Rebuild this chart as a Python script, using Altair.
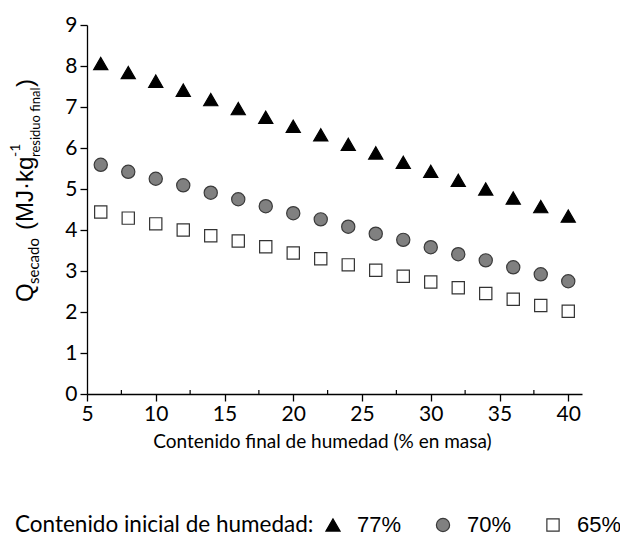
import altair as alt
import pandas as pd

# ---- data ----
humedad_final = [6, 8, 10, 12, 14, 16, 18, 20, 22, 24, 26, 28, 30, 32, 34, 36, 38, 40]
q_77 = [8.06, 7.84, 7.63, 7.41, 7.18, 6.96, 6.75, 6.53, 6.32, 6.09, 5.88, 5.65, 5.43, 5.21, 5.00, 4.78, 4.57, 4.34]
q_70 = [5.59, 5.42, 5.25, 5.09, 4.91, 4.75, 4.58, 4.41, 4.26, 4.08, 3.91, 3.76, 3.58, 3.41, 3.26, 3.09, 2.92, 2.75]
q_65 = [4.44, 4.29, 4.15, 4.00, 3.86, 3.73, 3.59, 3.44, 3.30, 3.15, 3.02, 2.87, 2.73, 2.59, 2.45, 2.31, 2.16, 2.02]
series = ["77%", "70%", "65%"]

x_major = [5, 10, 15, 20, 25, 30, 35, 40]
x_minor = [7.5, 12.5, 17.5, 22.5, 27.5, 32.5, 37.5]
y_ticks = [0, 1, 2, 3, 4, 5, 6, 7, 8, 9]

rows = []
for s, vals in zip(series, [q_77, q_70, q_65]):
    for h, q in zip(humedad_final, vals):
        rows.append({"serie": s, "humedad": h, "q": q})
df = pd.DataFrame(rows)

W, H = 495, 369
LEFT, TOP = 87, 25

xscale = alt.Scale(domain=[5, 41], nice=False, zero=False)
yscale = alt.Scale(domain=[0, 9], nice=False, zero=False)

leg = alt.Legend(
    title="Contenido inicial de humedad:",
    orient="none", legendX=-72, legendY=489,
    direction="horizontal", titleOrient="left", titleLimit=0,
    titleFont="Lato", titleFontSize=22.5, titleFontWeight="normal", titleColor="black",
    titlePadding=8,
    labelFont="Liberation Sans", labelFontSize=22, labelColor="black", labelLimit=0,
    labelOffset=13, columnPadding=30, padding=0,
    symbolStrokeWidth=1.2, symbolOpacity=1,
)

points = alt.Chart(df).mark_point(filled=True, opacity=1, strokeWidth=1.2).encode(
    x=alt.X("humedad:Q", scale=xscale,
            axis=alt.Axis(values=x_major, title="Contenido final de humedad  (% en masa)",
                          titleFont="Lato", titleFontSize=19, titleFontWeight="normal",
                          titleColor="black", titleX=235, titleY=53, titleBaseline="alphabetic",
                          labelFont="Lato", labelFontSize=21, labelColor="black",
                          labelPadding=2, tickSize=7, tickColor="black", tickWidth=1.3,
                          domainColor="black", domainWidth=1.3, grid=False,
                          labelFlush=False)),
    y=alt.Y("q:Q", scale=yscale,
            axis=alt.Axis(values=y_ticks, title=None,
                          labelFont="Lato", labelFontSize=21, labelColor="black",
                          labelPadding=3, tickSize=7, tickColor="black", tickWidth=1.3,
                          domainColor="black", domainWidth=1.3, grid=False,
                          labelFlush=False)),
    shape=alt.Shape("serie:N", scale=alt.Scale(domain=series, range=["triangle-up", "circle", "square"]), legend=leg),
    fill=alt.Fill("serie:N", scale=alt.Scale(domain=series, range=["#000000", "#808080", "#ffffff"]), legend=leg),
    stroke=alt.Stroke("serie:N", scale=alt.Scale(domain=series, range=["#000000", "#3a3a3a", "#333333"]), legend=leg),
    size=alt.Size("serie:N", scale=alt.Scale(domain=series, range=[200, 150, 115]), legend=leg),
)

minor = alt.Chart(pd.DataFrame({"m": x_minor})).mark_rule(color="black", strokeWidth=1.2).encode(
    x=alt.X("m:Q", scale=xscale),
    y=alt.value(H - 4),
    y2=alt.value(H),
)


def title_piece(text, x, y, font, size):
    return alt.Chart(pd.DataFrame({"t": [text]})).mark_text(
        angle=270, align="left", baseline="alphabetic", font=font, fontSize=size, color="black"
    ).encode(x=alt.value(x), y=alt.value(y), text="t:N")


t_q = title_piece("Q", 33 - LEFT, 302 - TOP, "Liberation Sans", 24)
t_sub1 = title_piece("secado", 39 - LEFT, 284 - TOP, "Lato", 15)
t_mid = title_piece("(MJ·kg", 33 - LEFT, 230 - TOP, "Liberation Sans", 24)
t_sup = title_piece("-1", 20 - LEFT, 157 - TOP, "Lato", 14)
t_sub2 = title_piece("residuo final", 40 - LEFT, 157 - TOP, "Lato", 13)
t_end = title_piece(")", 33 - LEFT, 87 - TOP, "Liberation Sans", 24)

chart = alt.layer(points, minor, t_q, t_sub1, t_mid, t_sup, t_sub2, t_end).properties(
    width=W, height=H,
    autosize=alt.AutoSizeParams(type="none"),
    padding={"left": LEFT, "top": TOP, "right": 620 - LEFT - W, "bottom": 537 - TOP - H},
    background="white",
).configure_view(stroke=None)

chart.save("out.html", embed_options={"renderer": "svg", "actions": False})
